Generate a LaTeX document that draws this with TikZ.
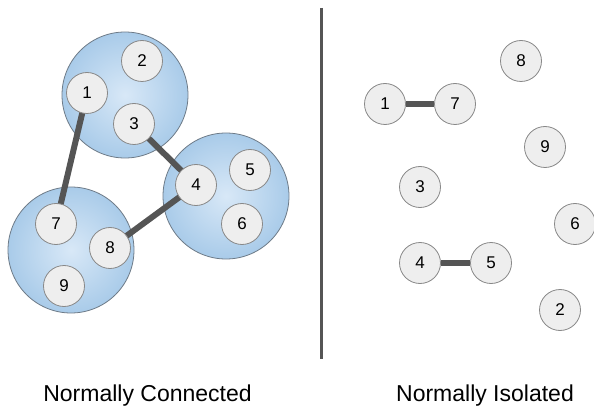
\documentclass[tikz,border=0pt]{standalone}
\usepackage{fontspec}
\setmainfont{Liberation Sans}
\definecolor{ballin}{HTML}{D8E8F7}
\definecolor{ballout}{HTML}{7AAEDB}
\definecolor{ballrim}{HTML}{6E7B88}
\definecolor{nodefill}{HTML}{EEEEEE}
\definecolor{noderim}{HTML}{888888}
\definecolor{edgecol}{HTML}{555555}
\pgfdeclareradialshading{ballshade}{\pgfpoint{0bp}{0bp}}{color(0bp)=(ballin); color(50bp)=(ballout)}
\begin{document}
\begin{tikzpicture}[x=1pt,y=-1pt,
  cluster/.style={circle,draw=ballrim,line width=0.8pt,shading=ballshade,minimum size=126pt,inner sep=0pt},
  vtx/.style={circle,draw=noderim,fill=nodefill,line width=0.8pt,minimum size=41pt,inner sep=0pt,font=\fontsize{17}{17}\selectfont},
  link/.style={draw=edgecol,line width=6pt},
  caption/.style={font=\fontsize{23}{23}\selectfont,inner sep=0pt,anchor=base}]
\useasboundingbox (0,0) rectangle (594,406);
% clusters
\node[cluster] (cA) at (125,95) {};
\node[cluster] (cB) at (226,196) {};
\node[cluster] (cC) at (71,250) {};
% left edges (behind nodes)
\coordinate (p1) at (87,93);
\coordinate (p7) at (56,224);
\coordinate (p3) at (134,124);
\coordinate (p4) at (196,185);
\coordinate (p8) at (110,248);
\draw[link] (p1) -- (p7);
\draw[link] (p3) -- (p4);
\draw[link] (p8) -- (p4);
% left nodes
\node[vtx] (l1) at (p1) {1};
\node[vtx] (l2) at (142,61) {2};
\node[vtx] (l3) at (p3) {3};
\node[vtx] (l4) at (p4) {4};
\node[vtx] (l5) at (250,170) {5};
\node[vtx] (l6) at (242,224) {6};
\node[vtx] (l7) at (p7) {7};
\node[vtx] (l8) at (p8) {8};
\node[vtx] (l9) at (64,286) {9};
% divider
\coordinate (dtop) at (321.5,8);
\coordinate (dbot) at (321.5,359);
\draw[edgecol,line width=2.5pt] (dtop) -- (dbot);
% right nodes
\node[vtx] (r1) at (385,104) {1};
\node[vtx] (r7) at (455,104) {7};
\node[vtx] (r8) at (521,61) {8};
\node[vtx] (r9) at (545,147) {9};
\node[vtx] (r3) at (420,187) {3};
\node[vtx] (r6) at (575,224) {6};
\node[vtx] (r4) at (420,263) {4};
\node[vtx] (r5) at (491,263) {5};
\node[vtx] (r2) at (560,310) {2};
\draw[link] (r1) -- (r7);
\draw[link] (r4) -- (r5);
% captions
\node[caption] (capL) at (147.5,401) {Normally Connected};
\node[caption] (capR) at (485,401) {Normally Isolated};
\end{tikzpicture}
\end{document}
